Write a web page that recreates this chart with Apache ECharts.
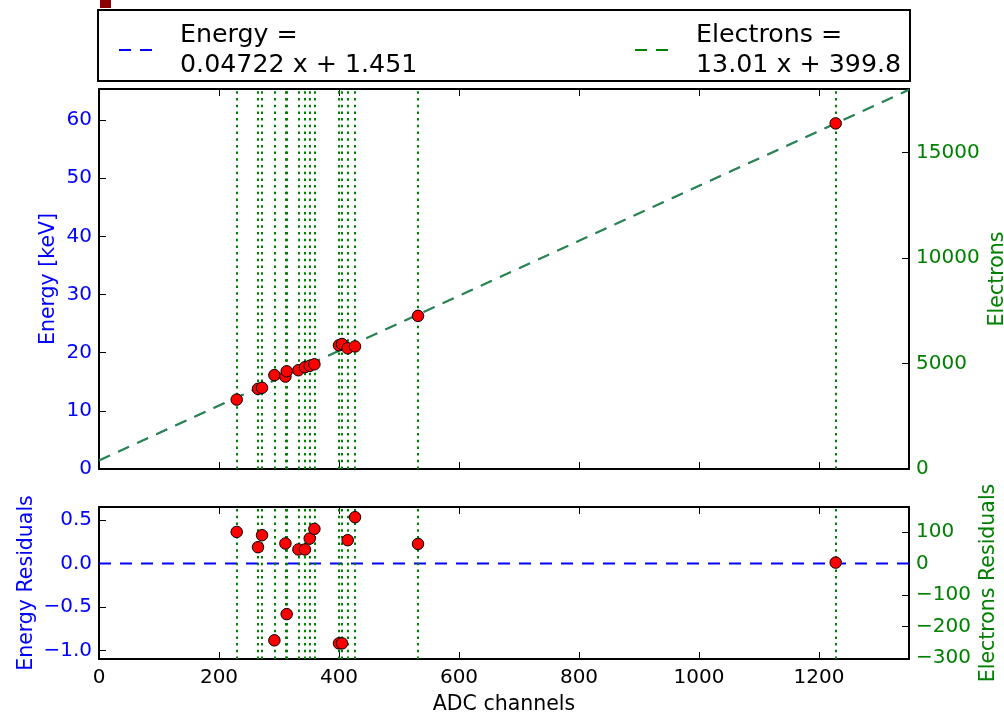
<!DOCTYPE html>
<html>
<head>
<meta charset="utf-8">
<script src="https://cdn.jsdelivr.net/npm/echarts@6/dist/echarts.min.js"></script>
<style>
html,body{margin:0;padding:0;background:#fff;}
#chart{width:1004px;height:715px;}
</style>
</head>
<body>
<div id="chart"></div>
<script>
// ---- data ----
const adcChannels = [229.5, 265.0, 271.7, 292.3, 310.7, 312.8, 332.3, 343.3, 351.2, 359.0, 400.0, 405.0, 414.5, 426.7, 531.7, 1227.8];
const energyKeV = [11.93, 13.78, 13.96, 16.14, 15.89, 16.80, 16.98, 17.50, 17.74, 18.00, 21.26, 21.49, 20.75, 21.07, 26.33, 59.42];
const energyResiduals = [0.363, 0.187, 0.325, -0.885, 0.23, -0.583, 0.161, 0.161, 0.287, 0.398, -0.92, -0.92, 0.268, 0.532, 0.225, 0.01];

const energyFit = { slope: 0.04722, intercept: 1.451 };
const electronsFit = { slope: 13.01, intercept: 399.8 };

const xTicks = [0, 200, 400, 600, 800, 1000, 1200];
const energyTicks = [0, 10, 20, 30, 40, 50, 60];
const electronTicks = [0, 5000, 10000, 15000];
const energyResTicks = [-1.0, -0.5, 0.0, 0.5];
const electronResTicks = [-300, -200, -100, 0, 100];

const legendLabels = {
  Energy: 'Energy =\n0.04722 x + 1.451',
  Electrons: 'Electrons =\n13.01 x + 399.8'
};

// ---- axis ranges ----
const X_MIN = 0, X_MAX = 1350;
const E_MIN = 0, E_MAX = 65.33;
const R_MIN = -1.1, R_MAX = 0.65;
const elPerKeV = electronsFit.slope / energyFit.slope;
const toElectrons = e => electronsFit.slope * (e - energyFit.intercept) / energyFit.slope + electronsFit.intercept;
const EL_MIN = 0, EL_MAX = toElectrons(E_MAX);
const ER_MIN = R_MIN * elPerKeV, ER_MAX = R_MAX * elPerKeV;

const FONT = 'DejaVu Sans';
const BLUE = '#0000ff', GREEN = '#008000', FIT_GREEN = '#2a8650';
const TICK_FS = 20, NAME_FS = 20.5;
const minus = s => s.replace('-', '\u2212');
const DASH_ICON = 'path://M0,0h12v2h-12z M21,0h12v2h-12z';

const energyFitLine = [[X_MIN, energyFit.slope * X_MIN + energyFit.intercept], [X_MAX, energyFit.slope * X_MAX + energyFit.intercept]];
const electronsFitLine = [[X_MIN, electronsFit.slope * X_MIN + electronsFit.intercept], [X_MAX, electronsFit.slope * X_MAX + electronsFit.intercept]];
const zeroLine = [[X_MIN, 0], [X_MAX, 0]];
const mainPoints = adcChannels.map((x, i) => [x, energyKeV[i]]);
const residualPoints = adcChannels.map((x, i) => [x, energyResiduals[i]]);

const vLines = {
  silent: true, symbol: ['none', 'none'], animation: false,
  label: { show: false },
  lineStyle: { color: GREEN, type: [2.5, 4.2], width: 2, opacity: 1 },
  emphasis: { disabled: true },
  data: adcChannels.map(v => ({ xAxis: v }))
};

function xAx(grid, pos, labels) {
  return {
    type: 'value', gridIndex: grid, position: pos, min: X_MIN, max: X_MAX,
    axisLine: { show: true, onZero: false, lineStyle: { color: '#000', width: 2 } },
    axisTick: { show: true, inside: true, length: 7, customValues: xTicks, lineStyle: { color: '#000', width: 1 } },
    axisLabel: { show: labels, customValues: xTicks, color: '#000', fontSize: TICK_FS, fontFamily: FONT, margin: 9, formatter: v => String(v) },
    splitLine: { show: false },
    name: labels ? 'ADC channels' : '', nameLocation: 'middle', nameGap: 35, nameMoveOverlap: false,
    nameTextStyle: { color: '#000', fontSize: NAME_FS, fontFamily: FONT }
  };
}
function yAx(grid, pos, min, max, ticks, color, name, gap, fmt) {
  return {
    type: 'value', gridIndex: grid, position: pos, min: min, max: max,
    axisLine: { show: true, onZero: false, lineStyle: { color: '#000', width: 2 } },
    axisTick: { show: true, inside: true, length: 7, customValues: ticks, lineStyle: { color: '#000', width: 1 } },
    axisLabel: { show: true, customValues: ticks, color: color, fontSize: TICK_FS, fontFamily: FONT, margin: 7, formatter: fmt },
    splitLine: { show: false },
    name: name, nameLocation: 'middle', nameGap: gap, nameMoveOverlap: false,
    nameTextStyle: { color: color, fontSize: NAME_FS, fontFamily: FONT }
  };
}

const chart = echarts.init(document.getElementById('chart'), null, { renderer: 'canvas' });
const legendBase = {
  orient: 'horizontal', top: 15, itemWidth: 33, itemHeight: 2, selectedMode: false,
  formatter: n => legendLabels[n],
  textStyle: { fontSize: 25.3, lineHeight: 30, fontFamily: FONT, color: '#000', padding: [0, 0, 0, 23] }
};
chart.setOption({
  animation: false,
  backgroundColor: '#fff',
  graphic: [
    { type: 'rect', shape: { x: 98, y: 10, width: 812, height: 71 }, style: { fill: '#fff', stroke: '#000', lineWidth: 2 }, z: 0, silent: true },
    { type: 'rect', shape: { x: 100, y: 0, width: 11, height: 8 }, style: { fill: '#8b0000' }, z: 0, silent: true }
  ],
  legend: [
    Object.assign({}, legendBase, { data: [{ name: 'Energy', icon: DASH_ICON, itemStyle: { color: BLUE } }], left: 114 }),
    Object.assign({}, legendBase, { data: [{ name: 'Electrons', icon: DASH_ICON, itemStyle: { color: GREEN } }], left: 630 })
  ],
  grid: [
    { left: 99, right: 95, top: 89, height: 380, outerBoundsMode: 'none', containLabel: false },
    { left: 99, right: 95, top: 507, height: 152, outerBoundsMode: 'none', containLabel: false }
  ],
  xAxis: [xAx(0, 'bottom', false), xAx(0, 'top', false), xAx(1, 'bottom', true), xAx(1, 'top', false)],
  yAxis: [
    yAx(0, 'left', E_MIN, E_MAX, energyTicks, BLUE, 'Energy [keV]', 40, v => String(v)),
    yAx(0, 'right', EL_MIN, EL_MAX, electronTicks, GREEN, 'Electrons', 78, v => String(v)),
    yAx(1, 'left', R_MIN, R_MAX, energyResTicks, BLUE, 'Energy Residuals', 62, v => minus(v.toFixed(1))),
    yAx(1, 'right', ER_MIN, ER_MAX, electronResTicks, GREEN, 'Electrons Residuals', 69, v => minus(String(v)))
  ],
  series: [
    { name: 'Energy', type: 'line', xAxisIndex: 0, yAxisIndex: 0, data: energyFitLine, symbol: 'none', z: 2,
      lineStyle: { color: BLUE, width: 1.2, type: [12, 9] }, itemStyle: { color: BLUE }, markLine: vLines },
    { name: 'Electrons', type: 'line', xAxisIndex: 0, yAxisIndex: 1, data: electronsFitLine, symbol: 'none', z: 3,
      lineStyle: { color: FIT_GREEN, width: 2.2, type: [12, 9] }, itemStyle: { color: GREEN } },
    { name: 'points', type: 'scatter', xAxisIndex: 0, yAxisIndex: 0, data: mainPoints, symbolSize: 11.5, z: 5,
      itemStyle: { color: '#ff0000', borderColor: '#000', borderWidth: 1, opacity: 1 } },
    { name: 'zero', type: 'line', xAxisIndex: 2, yAxisIndex: 2, data: zeroLine, symbol: 'none', z: 3,
      lineStyle: { color: BLUE, width: 2, type: [12, 9] }, markLine: vLines },
    { name: 'residuals', type: 'scatter', xAxisIndex: 2, yAxisIndex: 2, data: residualPoints, symbolSize: 11.5, z: 5,
      itemStyle: { color: '#ff0000', borderColor: '#000', borderWidth: 1, opacity: 1 } }
  ]
});
</script>
</body>
</html>
